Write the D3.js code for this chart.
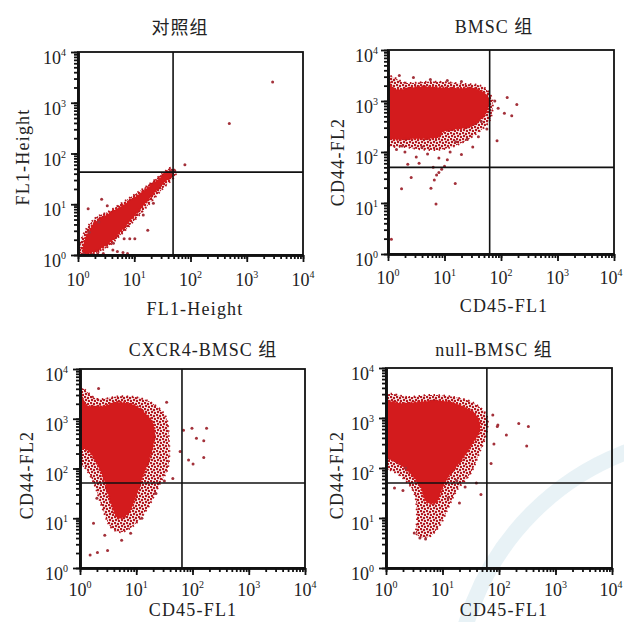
<!DOCTYPE html>
<html><head><meta charset="utf-8">
<script src="https://cdn.jsdelivr.net/npm/d3@7"></script>
<style>
html,body{margin:0;padding:0;background:#fff;}
svg{display:block;}
text{font-family:"Liberation Serif","Times New Roman","Noto Sans CJK SC",serif;fill:#222;}
</style></head>
<body>
<svg id="chart" width="624" height="622"></svg>
<script>
// ---------- data (values are log10 of fluorescence intensity) ----------
const titles = ["对照组", "BMSC 组", "CXCR4-BMSC 组", "null-BMSC 组"];
const xLabels = ["FL1-Height", "CD45-FL1", "CD45-FL1", "CD45-FL1"];
const yLabels = ["FL1-Height", "CD44-FL2", "CD44-FL2", "CD44-FL2"];
const tickValues = [1, 10, 100, 1000, 10000];
const tickExponents = ["0", "1", "2", "3", "4"];
const quadX = [49, 63, 65, 61];
const quadY = [43, 50, 51, 50];

// dense populations: outline of the solid core and of the sparser fringe (log10 units)
const ctrlCore = [[0.12,0.3],[0.3,0.64],[0.52,0.8],[0.87,1.03],[1.16,1.26],[1.46,1.52],[1.62,1.66],[1.68,1.6],[1.46,1.35],[1.22,1.05],[0.98,0.74],[0.75,0.45],[0.51,0.2],[0.27,0.06],[0.1,0.06]];
const ctrlFringe = [[0.07,0.34],[0.3,0.72],[0.55,0.86],[0.88,1.1],[1.2,1.34],[1.5,1.6],[1.66,1.72],[1.74,1.6],[1.5,1.3],[1.26,1.0],[1.0,0.68],[0.76,0.4],[0.5,0.14],[0.25,0.02],[0.05,0.02]];
const bmscCore = [[0,3.4],[0.1,3.24],[0.57,3.28],[1.16,3.25],[1.55,3.24],[1.72,3.14],[1.79,3.0],[1.72,2.74],[1.45,2.5],[0.98,2.4],[0.9,2.3],[0.39,2.26],[0,2.3]];
const bmscFringe = [[0,3.48],[0.3,3.36],[0.8,3.38],[1.3,3.34],[1.68,3.28],[1.84,3.05],[1.8,2.62],[1.55,2.35],[1.25,2.15],[0.95,2.05],[0.6,2.05],[0.3,2.1],[0,2.15]];
const cxcrCore = [[0,3.58],[0.1,3.28],[0.4,3.25],[0.65,3.33],[0.95,3.28],[1.15,3.12],[1.3,2.9],[1.32,2.6],[1.25,2.25],[1.12,1.85],[1.0,1.45],[0.85,1.08],[0.68,1.0],[0.55,1.3],[0.45,1.7],[0.3,2.1],[0.15,2.35],[0,2.45]];
const cxcrFringe = [[0,3.62],[0.3,3.4],[0.7,3.45],[1.05,3.42],[1.3,3.3],[1.52,3.05],[1.58,2.6],[1.56,2.0],[1.42,1.7],[1.2,1.2],[0.95,0.85],[0.72,0.72],[0.55,0.82],[0.4,1.2],[0.25,1.7],[0.1,2.0],[0,2.1]];
const nullCore = [[0,3.3],[0.31,3.29],[0.67,3.33],[1.08,3.33],[1.44,3.19],[1.63,3.0],[1.66,2.76],[1.5,2.43],[1.3,2.1],[1.12,1.85],[1.0,1.6],[0.88,1.3],[0.72,1.32],[0.6,1.65],[0.42,1.9],[0.22,2.1],[0,2.25]];
const nullFringe = [[0,3.45],[0.4,3.42],[0.8,3.46],[1.2,3.42],[1.55,3.3],[1.78,3.05],[1.78,2.7],[1.65,2.3],[1.5,1.9],[1.25,1.55],[1.1,1.2],[0.95,0.85],[0.75,0.62],[0.55,0.66],[0.55,1.0],[0.5,1.5],[0.3,1.8],[0.1,1.95],[0,2.0]];

// individual events outside the dense populations (log10 units)
const ctrlPoints = [[3.46,3.41],[2.69,2.59],[1.9,1.78],[0.18,0.91],[0.42,1.1],[0.52,0.97],[0.37,0.65],[1.24,0.49],[1.16,0.79],[1.34,1.02],[0.82,0.32],[0.92,0.32],[1.01,0.32],[0.63,0.23],[0.02,0.2],[0.62,0.1],[0.7,0.07],[0.8,0.05],[0.88,0.03],[0.1,0.02],[0.25,0.01],[0.35,0.02],[0.45,0.03],[0.2,0.45],[1.69,1.64],[1.66,1.62],[1.72,1.66],[1.64,1.66]];
const bmscPoints = [[0.24,1.28],[0.76,1.29],[0.85,0.98],[1.19,1.38],[0.06,0.29],[0.41,1.5],[0.82,1.45],[0.86,1.55],[0.9,1.6],[0.95,1.66],[0.8,1.7],[1.0,1.72],[2.11,3.07],[2.28,2.93],[2.19,2.71],[2.06,2.76],[1.93,2.22],[1.89,3.0],[1.95,2.86],[0.3,2.0],[0.5,1.9],[0.7,1.96],[1.1,2.0],[1.3,1.95],[1.5,2.1],[0.15,2.05],[0.6,2.1],[1.2,2.2],[1.6,2.3],[0.2,3.5],[0.45,3.46],[0.75,3.42],[1.05,3.4],[1.3,3.38],[1.65,2.6],[1.75,2.45],[0.35,1.76],[1.05,1.85],[0.55,1.78],[0.25,2.12],[0.9,1.88],[1.4,2.25]];
const cxcrPoints = [[1.99,2.81],[2.25,2.81],[2.07,2.61],[2.2,2.56],[2.2,2.22],[1.93,2.17],[2.01,2.09],[1.78,2.34],[1.84,2.77],[0.18,0.26],[0.31,0.31],[0.49,0.35],[0.44,0.66],[0.74,0.56],[0.24,0.9],[0.33,3.61],[1.54,3.33],[1.65,1.8],[1.5,1.75],[0.3,1.4],[1.1,1.0],[0.9,0.7],[1.35,1.5]];
const nullPoints = [[1.98,2.86],[2.35,2.89],[2.13,2.66],[1.91,2.48],[1.89,3.06],[2.52,2.83],[2.49,2.44],[1.97,2.83],[1.86,2.09],[1.68,1.47],[1.4,1.62],[0.3,1.55],[0.15,1.6],[1.3,1.3],[0.6,0.6],[0.7,0.58],[0.5,0.7],[0.35,2.0],[1.25,1.75],[1.6,1.7],[1.1,1.4]];

const cores = [ctrlCore, bmscCore, cxcrCore, nullCore];
const fringes = [ctrlFringe, bmscFringe, cxcrFringe, nullFringe];
const points = [ctrlPoints, bmscPoints, cxcrPoints, nullPoints];

// ---------- layout (pixels) ----------
const frames = [
  {x0:78, x1:303, y0:52, y1:255, tx:180, ty:34, xlx:195, xly:315, ylx:29, yly:157, tickY:286, yTickX:66},
  {x0:388, x1:614, y0:50, y1:254, tx:494, ty:33, xlx:504, xly:312, ylx:344, yly:162, tickY:284, yTickX:378},
  {x0:80, x1:305, y0:369, y1:568, tx:203, ty:356, xlx:193, xly:616, ylx:33, yly:475, tickY:596, yTickX:68},
  {x0:386, x1:612, y0:368, y1:568, tx:494, ty:356, xlx:504, xly:616, ylx:343, yly:475, tickY:596, yTickX:374}
];

const svg = d3.select("#chart");
const defs = svg.append("defs");
const pat = defs.append("pattern").attr("id","speckle").attr("patternUnits","userSpaceOnUse")
  .attr("width",6).attr("height",6);
pat.append("rect").attr("width",6).attr("height",6).attr("fill","#fbeeee");
[[1,1],[4,2],[2,4],[5,5]].forEach(p => pat.append("circle").attr("cx",p[0]).attr("cy",p[1]).attr("r",1.2).attr("fill","#b0141c"));

const RED = "#d31b1d";

// faint journal watermark arc (behind the panels)
svg.append("circle").attr("cx", 720).attr("cy", 700).attr("r", 265)
  .attr("fill", "none").attr("stroke", "#bcdbe6").attr("stroke-width", 16).attr("opacity", 0.35);

frames.forEach((f, i) => {
  const x = d3.scaleLog().domain([1, 1e4]).range([f.x0, f.x1]);
  const y = d3.scaleLog().domain([1, 1e4]).range([f.y1, f.y0]);
  const g = svg.append("g");
  const clipId = "clip" + i;
  defs.append("clipPath").attr("id", clipId).append("rect")
    .attr("x", f.x0).attr("y", f.y0).attr("width", f.x1 - f.x0).attr("height", f.y1 - f.y0);

  const line = d3.line().x(d => x(10 ** d[0])).y(d => y(10 ** d[1]))
    .curve(d3.curveCatmullRomClosed.alpha(0.5));
  const plot = g.append("g").attr("clip-path", `url(#${clipId})`);
  plot.append("path").attr("d", line(fringes[i])).attr("fill", "url(#speckle)")
    .attr("stroke", "#b3141c").attr("stroke-width", 2).attr("stroke-dasharray", "1.5 3.5");
  plot.append("path").attr("d", line(cores[i])).attr("fill", RED)
    .attr("stroke", RED).attr("stroke-width", 2.5).attr("stroke-dasharray", "2 1.5");
  plot.selectAll("circle.ev").data(points[i]).join("circle").attr("class","ev")
    .attr("cx", d => x(10 ** d[0])).attr("cy", d => y(10 ** d[1]))
    .attr("r", 1.5).attr("fill", "#a3313a");

  // quadrant lines
  g.append("line").attr("x1", x(quadX[i])).attr("x2", x(quadX[i])).attr("y1", f.y0).attr("y2", f.y1)
    .attr("stroke", "#111").attr("stroke-width", 1.6);
  g.append("line").attr("x1", f.x0).attr("x2", f.x1).attr("y1", y(quadY[i])).attr("y2", y(quadY[i]))
    .attr("stroke", "#111").attr("stroke-width", 1.6);

  // frame
  g.append("rect").attr("x", f.x0).attr("y", f.y0).attr("width", f.x1 - f.x0).attr("height", f.y1 - f.y0)
    .attr("fill", "none").attr("stroke", "#111").attr("stroke-width", 1.8);

  // axes: minor and major ticks
  const xMinor = g.append("g").attr("transform", `translate(0,${f.y1})`)
    .call(d3.axisBottom(x).tickValues(x.ticks()).tickFormat("").tickSize(4).tickSizeOuter(0));
  const xMajor = g.append("g").attr("transform", `translate(0,${f.y1})`)
    .call(d3.axisBottom(x).tickValues(tickValues).tickFormat("").tickSize(7).tickSizeOuter(0));
  const yMinor = g.append("g").attr("transform", `translate(${f.x0},0)`)
    .call(d3.axisLeft(y).tickValues(y.ticks()).tickFormat("").tickSize(4).tickSizeOuter(0));
  const yMajor = g.append("g").attr("transform", `translate(${f.x0},0)`)
    .call(d3.axisLeft(y).tickValues(tickValues).tickFormat("").tickSize(7).tickSizeOuter(0));
  [xMinor, xMajor, yMinor, yMajor].forEach(a => {
    a.selectAll("line").attr("stroke", "#111").attr("stroke-width", 1.8);
    a.select(".domain").attr("stroke", "#111").attr("stroke-width", 2.6);
  });

  // tick labels 10^n
  tickValues.forEach((v, k) => {
    const lx = Math.min(x(v), 611);
    const t = g.append("text").attr("x", lx).attr("y", f.tickY).attr("text-anchor", "middle")
      .attr("font-size", 18);
    t.append("tspan").text("10");
    t.append("tspan").attr("dy", -8).attr("font-size", 10).text(tickExponents[k]);
    const t2 = g.append("text").attr("x", f.yTickX).attr("y", y(v) + 12).attr("text-anchor", "end")
      .attr("font-size", 18);
    t2.append("tspan").text("10");
    t2.append("tspan").attr("dy", -8).attr("font-size", 10).text(tickExponents[k]);
  });

  // titles and axis labels
  g.append("text").attr("x", f.tx).attr("y", f.ty).attr("text-anchor", "middle")
    .attr("font-size", 18).attr("letter-spacing", 1).text(titles[i]);
  g.append("text").attr("x", f.xlx).attr("y", f.xly).attr("text-anchor", "middle")
    .attr("font-size", 18).attr("letter-spacing", 1.2).text(xLabels[i]);
  g.append("text").attr("transform", `translate(${f.ylx},${f.yly}) rotate(-90)`).attr("text-anchor", "middle")
    .attr("font-size", 18).attr("letter-spacing", 1.2).text(yLabels[i]);
});
</script>
</body></html>
